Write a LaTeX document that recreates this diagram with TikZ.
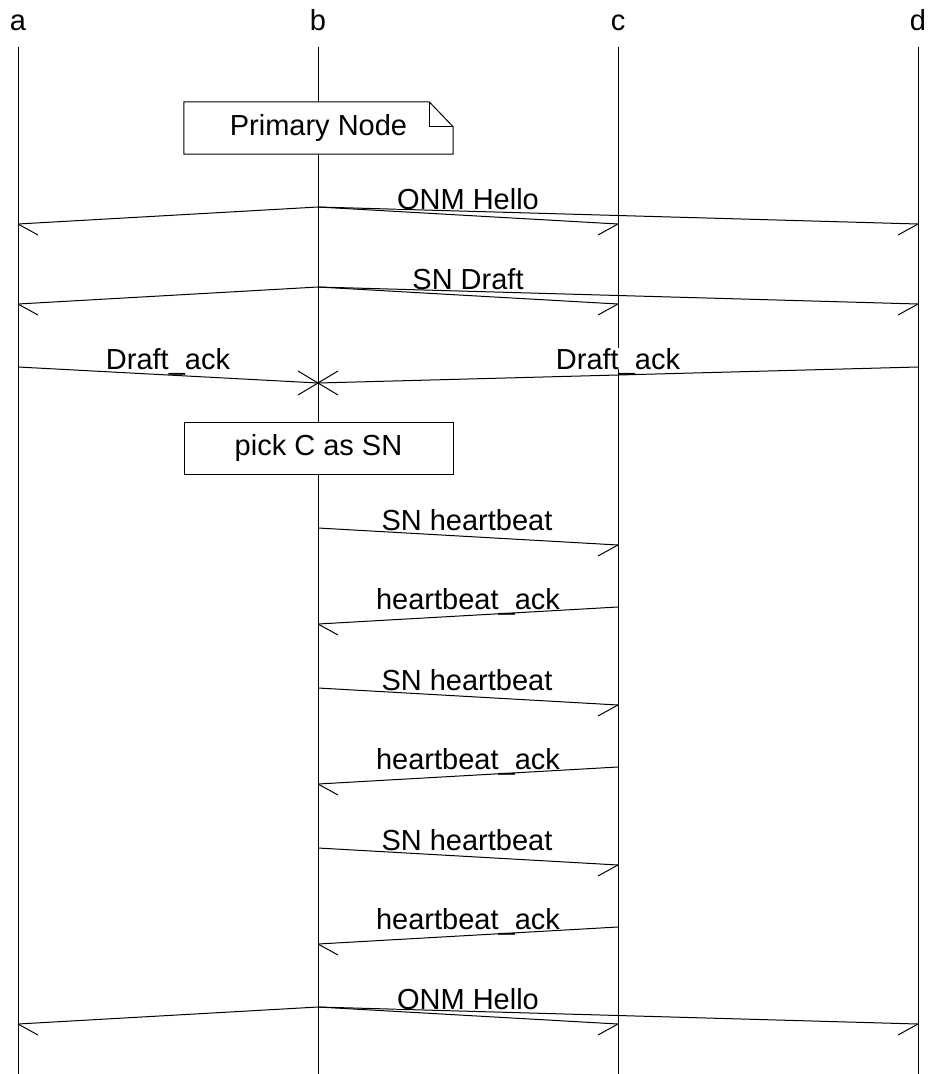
\documentclass[tikz,border=0pt]{standalone}
\usepackage{fontspec}
\setmainfont{Liberation Sans}
\tikzset{
  every node/.style={font=\fontsize{29}{34}\selectfont, inner sep=0pt},
  life/.style={line width=1pt},
  msg/.style={line width=1pt},
  barb/.style={line width=1pt},
  lbl/.style={fill=white, anchor=base, inner xsep=1pt, inner ysep=0pt, text height=21pt, text depth=0pt},
  head/.style={anchor=base},
  boxnode/.style={fill=white, minimum width=269pt, minimum height=52pt, text height=21pt, text depth=6pt},
}
\begin{document}
\begin{tikzpicture}[x=1pt,y=-1pt]
\useasboundingbox (0,0) rectangle (929,1074);
% lifeline heads
\foreach \n/\x in {a/18,b/318,c/618,d/918}{
  \node[head] (h\n) at (\x,30) {\n};
  \coordinate (\n top) at (\x,47);
  \coordinate (\n bot) at (\x,1074);
  \draw[life] (\n top) -- (\n bot);
}
% ---- ONM Hello (top) ----
\coordinate (m1s) at (318,207);
\coordinate (m1a) at (18,224);
\coordinate (m1c) at (618,224);
\coordinate (m1d) at (918,224);
\draw[msg] (m1s) -- (m1a);
\draw[msg] (m1s) -- (m1c);
\draw[msg] (m1s) -- (m1d);
\draw[barb] (m1a) -- ++(20,11);
\draw[barb] (m1c) -- ++(-20,11);
\draw[barb] (m1d) -- ++(-20,11);
\node[lbl] (l1) at (468,209) {ONM Hello};
% ---- SN Draft ----
\coordinate (m2s) at (318,287);
\coordinate (m2a) at (18,304);
\coordinate (m2c) at (618,304);
\coordinate (m2d) at (918,304);
\draw[msg] (m2s) -- (m2a);
\draw[msg] (m2s) -- (m2c);
\draw[msg] (m2s) -- (m2d);
\draw[barb] (m2a) -- ++(20,11);
\draw[barb] (m2c) -- ++(-20,11);
\draw[barb] (m2d) -- ++(-20,11);
\node[lbl] (l2) at (468,289) {SN Draft};
% ---- Draft_ack x2 ----
\coordinate (m3a) at (18,367);
\coordinate (m3d) at (918,367);
\coordinate (m3b) at (318,383);
\draw[msg] (m3a) -- (m3b);
\draw[msg] (m3d) -- (m3b);
\draw[barb] (m3b) -- ++(-20,-12);
\draw[barb] (m3b) -- ++(-20,12);
\draw[barb] (m3b) -- ++(20,-12);
\draw[barb] (m3b) -- ++(20,12);
\node[lbl] (l3a) at (168,369) {Draft\_ack};
\node[lbl] (l3d) at (618,369) {Draft\_ack};
% ---- heartbeats ----
\foreach \i/\y in {1/528,2/688,3/848}{
  \coordinate (hb\i s) at (318,\y);
  \coordinate (hb\i t) at (618,\y+17);
  \draw[msg] (hb\i s) -- (hb\i t);
  \draw[barb] (hb\i t) -- ++(-20,11);
  \node[lbl] (hbl\i) at (467,\y+2) {SN heartbeat};
  \coordinate (ack\i s) at (618,\y+79);
  \coordinate (ack\i t) at (318,\y+96);
  \draw[msg] (ack\i s) -- (ack\i t);
  \draw[barb] (ack\i t) -- ++(20,11);
  \node[lbl] (ackl\i) at (468,\y+81) {heartbeat\_ack};
}
% ---- ONM Hello (bottom) ----
\coordinate (m9s) at (318,1007);
\coordinate (m9a) at (18,1024);
\coordinate (m9c) at (618,1024);
\coordinate (m9d) at (918,1024);
\draw[msg] (m9s) -- (m9a);
\draw[msg] (m9s) -- (m9c);
\draw[msg] (m9s) -- (m9d);
\draw[barb] (m9a) -- ++(20,11);
\draw[barb] (m9c) -- ++(-20,11);
\draw[barb] (m9d) -- ++(-20,11);
\node[lbl] (l9) at (468,1009) {ONM Hello};
% ---- note: Primary Node ----
\node[boxnode] (pn) at (318.5,128) {Primary Node};
\draw[line width=1pt] (pn.north west) -- ([xshift=-24pt]pn.north east) -- ([yshift=-25pt]pn.north east) -- (pn.south east) -- (pn.south west) -- cycle;
\draw[line width=1pt] ([xshift=-24pt]pn.north east) |- ([yshift=-25pt]pn.north east);
% ---- box: pick C as SN ----
\node[boxnode, draw, line width=1pt] (pk) at (318.5,448) {pick C as SN};
\end{tikzpicture}
\end{document}
